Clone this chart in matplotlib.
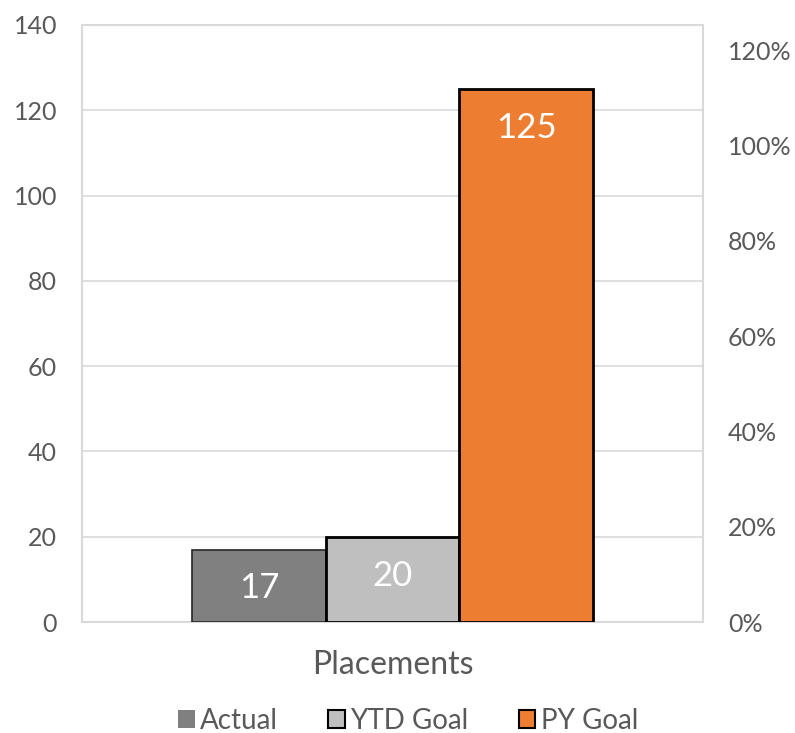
import matplotlib.pyplot as plt
import matplotlib.ticker as mticker
from matplotlib.patches import Patch

# Chart data
category = 'Placements'
series_names = ['Actual', 'YTD Goal', 'PY Goal']
series_values = [17, 20, 125]
left_ticks = [0, 20, 40, 60, 80, 100, 120, 140]
right_ticks = [0.0, 0.2, 0.4, 0.6, 0.8, 1.0, 1.2]

# Style
BAR_COLORS = ['#808080', '#BFBFBF', '#ED7D31']
EDGE_COLORS = ['#262626', '#000000', '#000000']
EDGE_WIDTHS = [1.2, 2.0, 2.0]
GRID_COLOR = '#D9D9D9'
TEXT_COLOR = '#595959'
FONT = ['Lato', 'DejaVu Sans']

plt.rcParams['font.family'] = FONT

fig = plt.figure(figsize=(7.95, 7.33), dpi=100)
ax = fig.add_axes([82 / 795, 111 / 733, 621 / 795, 597 / 733])

bar_w = 401 / 621 / 3
offsets = [-bar_w, 0, bar_w]
for name, val, off, fc, ec, lw in zip(series_names, series_values, offsets,
                                      BAR_COLORS, EDGE_COLORS, EDGE_WIDTHS):
    ax.bar(off, val, width=bar_w, color=fc, edgecolor=ec, linewidth=lw,
           zorder=3, label=name)
    # value label just inside the top of each bar
    ax.annotate(f"{val}", xy=(off, val), xytext=(0, -28), textcoords='offset points',
                ha='center', va='center', color='white', fontsize=25, zorder=4)

ax.set_xlim(-0.5, 0.5)
ax.set_ylim(0, 140)
ax.set_yticks(left_ticks)
ax.set_xticks([0])
ax.set_xticklabels([category])
ax.tick_params(axis='x', length=0, pad=20, labelsize=23, colors=TEXT_COLOR)
ax.tick_params(axis='y', length=0, pad=18, labelsize=18, colors=TEXT_COLOR)
ax.grid(True, axis='y', color=GRID_COLOR, linewidth=1.2, zorder=1)
for sp in ax.spines.values():
    sp.set_color(GRID_COLOR)
    sp.set_linewidth(1.5)

# secondary percent axis (no series drawn on it)
ax2 = ax.twinx()
ax2.set_ylim(0, 1.253)
ax2.set_yticks(right_ticks)
ax2.yaxis.set_major_formatter(mticker.PercentFormatter(1.0, decimals=0))
ax2.tick_params(axis='y', length=0, pad=18, labelsize=18, colors=TEXT_COLOR)
for sp in ax2.spines.values():
    sp.set_visible(False)

handles = [Patch(facecolor=BAR_COLORS[0], edgecolor=BAR_COLORS[0], linewidth=0),
           Patch(facecolor=BAR_COLORS[1], edgecolor='#000000', linewidth=1.5),
           Patch(facecolor=BAR_COLORS[2], edgecolor='#000000', linewidth=1.5)]
leg = fig.legend(handles, series_names, loc='center', bbox_to_anchor=(408 / 795, 1 - 721 / 733),
                 ncol=3, frameon=False, fontsize=20, handlelength=0.6, handleheight=0.6,
                 handletextpad=0.2, columnspacing=1.8)
for t in leg.get_texts():
    t.set_color(TEXT_COLOR)

fig.savefig('out.png', dpi=100, facecolor='white')
